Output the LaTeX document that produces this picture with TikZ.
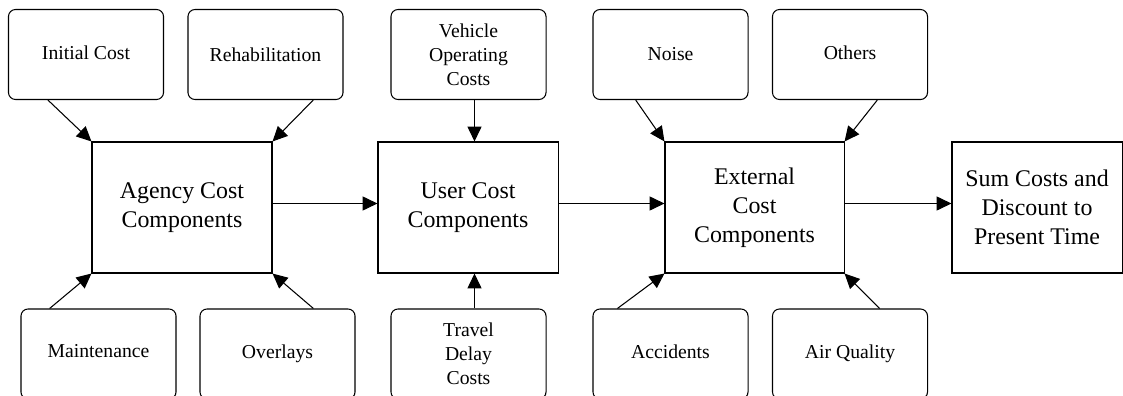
\documentclass[tikz,border=0pt]{standalone}
\usepackage{fontspec}
\setmainfont{Liberation Serif}
\usepackage{tikz}
\usetikzlibrary{arrows.meta}
\usetikzlibrary{calc}
\usetikzlibrary{positioning}

\begin{document}
\begin{tikzpicture}[x=0.025cm, y=-0.025cm,
        nodes={align=center, inner sep=0pt, line width=0.75pt},
        cost_box/.style={draw, rectangle, minimum width=4.5cm, minimum height=3.275cm,
          font={\fontsize{17}{20.5}\selectfont}},
        item_box/.style={draw, rectangle, rounded corners=5pt, minimum width=3.875cm,
          minimum height=2.25cm, font={\fontsize{14}{17}\selectfont}},
        flow/.style={->, line width=0.75pt},
        >={Triangle[length=0.37cm, width=0.35cm]}]

      \useasboundingbox (0,0) rectangle (1123,395);

      % main chain
      \node[cost_box] (agency) at (182,207.5) {Agency Cost\\Components};
      \node[cost_box] (user) at (468,207.5) {User Cost\\Components};
      \node[cost_box, minimum width=4.475cm] (external) at (754.5,207.5) {External\\Cost\\Components};
      \node[cost_box, minimum width=4.25cm] (sum) at (1037,207.5) {Sum Costs and\\Discount to\\Present Time};

      % agency inputs
      \node[item_box] (initial) at (86,54.5) {\raisebox{3pt}{Initial Cost}};
      \node[item_box] (rehab) at (265.5,54.5) {Rehabilitation};
      \node[item_box] (maint) at (98.5,354) {\raisebox{4pt}{Maintenance}};
      \node[item_box] (overlays) at (277.5,354) {Overlays};

      % user inputs
      \node[item_box] (vehicle) at (468.5,54.5) {Vehicle\\Operating\\Costs};
      \node[item_box] (travel) at (468.5,354) {Travel\\Delay\\Costs};

      % external inputs
      \node[item_box] (noise) at (670.5,54.5) {Noise};
      \node[item_box] (others) at (850,54.5) {\raisebox{3pt}{Others}};
      \node[item_box] (accidents) at (670.5,354) {\raisebox{4pt}{Accidents}};
      \node[item_box] (air) at (850,354) {\raisebox{4pt}{Air Quality}};

      \draw[flow] ([yshift=0.1cm]agency.east) -- ([yshift=0.1cm]user.west);
      \draw[flow] ([yshift=0.1cm]user.east) -- ([yshift=0.1cm]external.west);
      \draw[flow] ([yshift=0.1cm]external.east) -- ([yshift=0.1cm]sum.west);

      \draw[flow] ($(initial.south west)!0.256!(initial.south east)$) -- (agency.north west);
      \draw[flow] ($(rehab.south west)!0.806!(rehab.south east)$) -- (agency.north east);
      \draw[flow] ($(maint.north west)!0.187!(maint.north east)$) -- (agency.south west);
      \draw[flow] ($(overlays.north west)!0.73!(overlays.north east)$) -- (agency.south east);

      \draw[flow] ([xshift=0.15cm]vehicle.south) -- ([xshift=0.15cm]vehicle.south |- user.north);
      \draw[flow] ([xshift=0.15cm]travel.north) -- ([xshift=0.15cm]travel.north |- user.south);

      \draw[flow] ($(noise.south west)!0.277!(noise.south east)$) -- (external.north west);
      \draw[flow] ($(others.south west)!0.675!(others.south east)$) -- (external.north east);
      \draw[flow] ($(accidents.north west)!0.16!(accidents.north east)$) -- (external.south west);
      \draw[flow] ($(air.north west)!0.69!(air.north east)$) -- (external.south east);
    \end{tikzpicture}
\end{document}
